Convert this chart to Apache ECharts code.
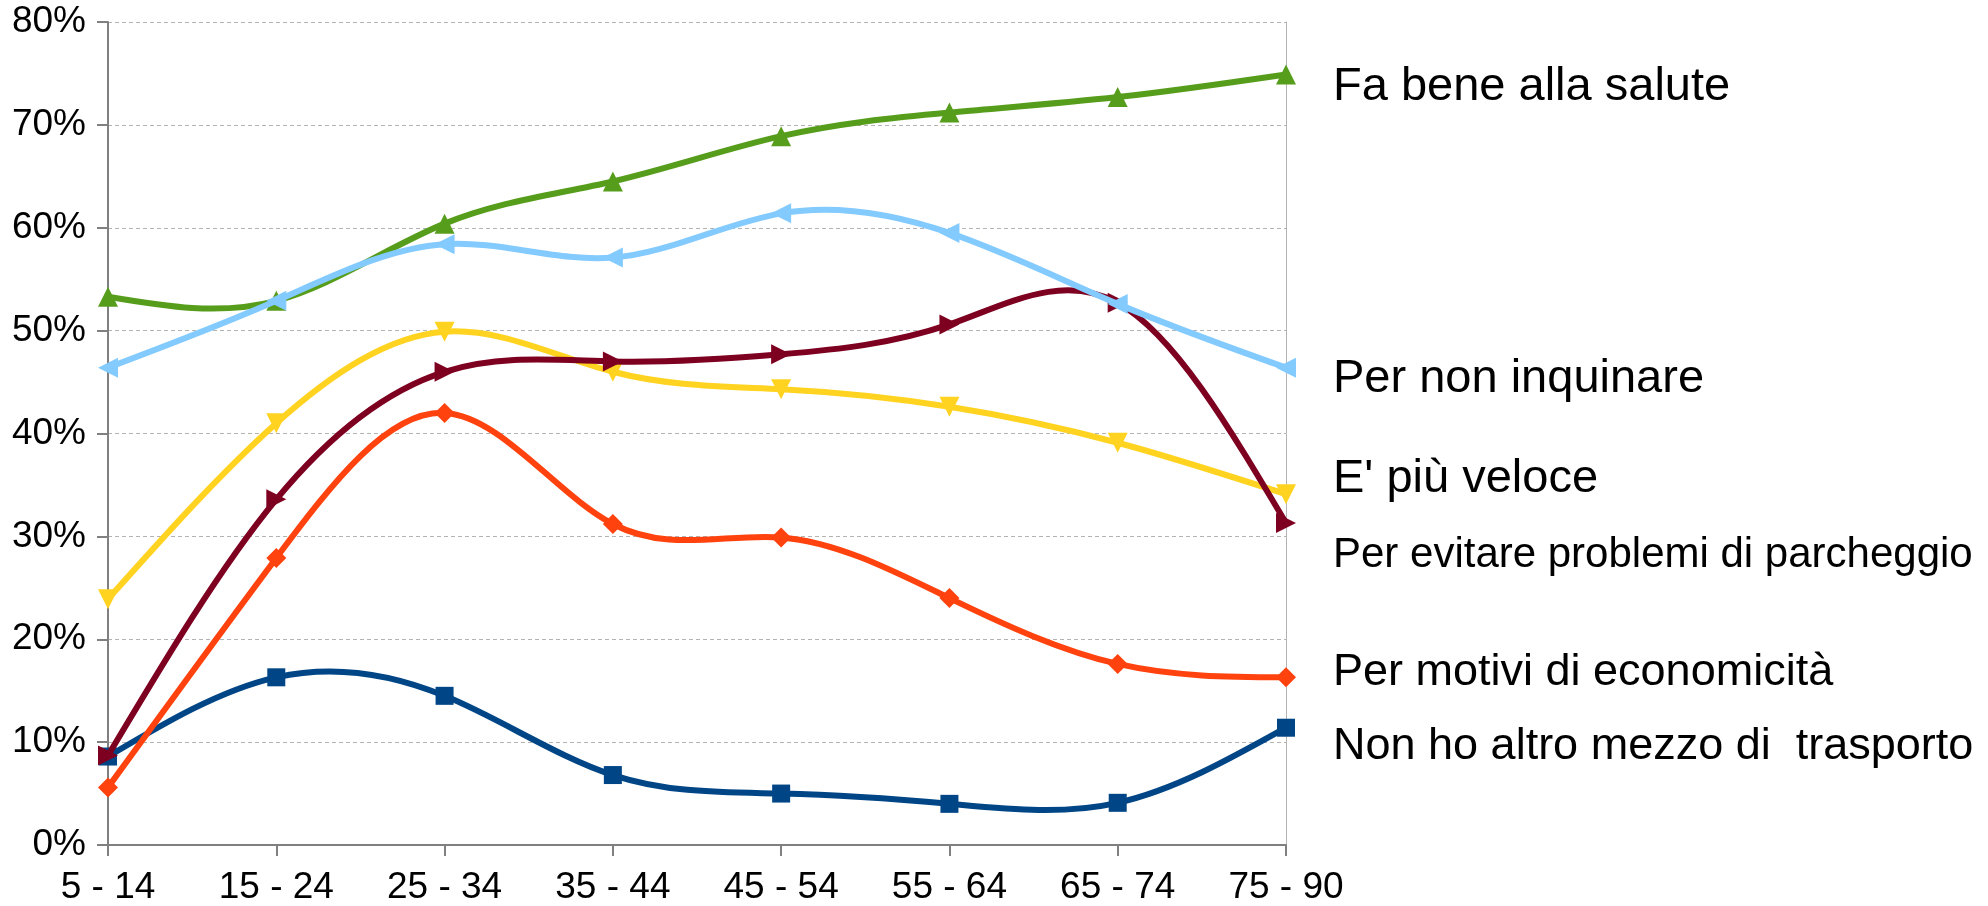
<!DOCTYPE html>
<html>
<head>
<meta charset="utf-8">
<title>Motivi</title>
<script src="https://cdn.jsdelivr.net/npm/echarts@6/dist/echarts.min.js"></script>
<style>
  html, body { margin: 0; padding: 0; background: #fff; }
  #chart { width: 1988px; height: 906px; }
</style>
</head>
<body>
<div id="chart"></div>
<script>
// fasce d'eta
const categories = ['5 - 14', '15 - 24', '25 - 34', '35 - 44', '45 - 54', '55 - 64', '65 - 74', '75 - 90']

// valori in %
const nonHoAltroMezzo = [8.6, 16.3, 14.5, 6.8, 5.0, 4.0, 4.1, 11.4]
const economicita = [5.6, 27.9, 42.0, 31.2, 29.9, 24.0, 17.6, 16.3]
const piuVeloce = [23.9, 41.0, 49.9, 46.0, 44.3, 42.6, 39.1, 34.1]
const faBene = [53.3, 52.9, 60.4, 64.5, 68.9, 71.2, 72.7, 74.9]
const parcheggio = [8.7, 33.6, 46.0, 47.0, 47.7, 50.6, 52.7, 31.3]
const inquinare = [46.4, 52.9, 58.4, 57.1, 61.4, 59.5, 52.6, 46.4]

const yTicks = [0, 10, 20, 30, 40, 50, 60, 70, 80]

const FONT = '"Liberation Sans", Arial, sans-serif'

// pendenze della spline cubica naturale (passo 1 tra le categorie)
function splineSlopes(ys) {
  const n = ys.length
  const M = new Array(n).fill(0)
  const cp = new Array(n).fill(0)
  const dp = new Array(n).fill(0)
  for (let i = 1; i < n - 1; i++) {
    const rhs = 6 * (ys[i + 1] - 2 * ys[i] + ys[i - 1])
    const m = 4 - (i > 1 ? cp[i - 1] : 0)
    cp[i] = 1 / m
    dp[i] = (rhs - (i > 1 ? dp[i - 1] : 0)) / m
  }
  for (let i = n - 2; i >= 1; i--) {
    M[i] = dp[i] - cp[i] * M[i + 1]
  }
  const s = []
  for (let i = 0; i < n - 1; i++) {
    s.push((ys[i + 1] - ys[i]) - (2 * M[i] + M[i + 1]) / 6)
  }
  s.push((ys[n - 1] - ys[n - 2]) + (M[n - 2] + 2 * M[n - 1]) / 6)
  return s
}

function splineSeries(values, color, width, z) {
  const slopes = splineSlopes(values)
  return {
    type: 'custom',
    silent: true,
    z: z,
    data: values.map(function (v, i) { return [i, v] }),
    encode: { x: 0, y: 1 },
    renderItem: function (params, api) {
      const i = params.dataIndex
      if (i >= values.length - 1) return
      const p0 = api.coord([i, values[i]])
      const p3 = api.coord([i + 1, values[i + 1]])
      const dx = p3[0] - p0[0]
      return {
        type: 'bezierCurve',
        shape: {
          x1: p0[0], y1: p0[1],
          x2: p3[0], y2: p3[1],
          cpx1: p0[0] + dx / 3,
          cpy1: api.coord([i, values[i] + slopes[i] / 3])[1],
          cpx2: p3[0] - dx / 3,
          cpy2: api.coord([i, values[i + 1] - slopes[i + 1] / 3])[1]
        },
        style: { stroke: color, lineWidth: width, fill: null, lineCap: 'round' }
      }
    }
  }
}

function markerSeries(name, values, color, symbol, rotate, size, labelSize, labelDy, z) {
  return {
    name: name,
    type: 'line',
    z: z,
    data: values,
    symbol: symbol,
    symbolSize: size,
    symbolRotate: rotate,
    showAllSymbol: true,
    lineStyle: { color: color, width: 0 },
    itemStyle: { color: color },
    emphasis: { disabled: true },
    endLabel: {
      show: true,
      formatter: name,
      color: '#000',
      fontFamily: FONT,
      fontSize: labelSize,
      distance: 0,
      offset: [47, labelDy],
      align: 'left',
      verticalAlign: 'middle'
    }
  }
}

const chart = echarts.init(document.getElementById('chart'))

const series = []
function addSerie(name, values, color, symbol, rotate, size, labelSize, labelDy) {
  const z = 2 + series.length
  series.push(splineSeries(values, color, 6, z))
  series.push(markerSeries(name, values, color, symbol, rotate, size, labelSize, labelDy, z + 1))
}

addSerie('Non ho altro mezzo di  trasporto', nonHoAltroMezzo, '#004586', 'rect', 0, 18, 45, 19)
addSerie('Per motivi di economicità', economicita, '#ff420e', 'diamond', 0, 20, 45, -5)
addSerie("E' più veloce", piuVeloce, '#ffd320', 'triangle', 180, 20, 47, -15)
addSerie('Fa bene alla salute', faBene, '#579d1c', 'triangle', 0, 20, 47, 13)
addSerie('Per evitare problemi di parcheggio', parcheggio, '#7e0021', 'triangle', -90, 20, 42, 32)
addSerie('Per non inquinare', inquinare, '#83caff', 'triangle', 90, 20, 47, 11)

chart.setOption({
  backgroundColor: '#fff',
  animation: false,
  grid: {
    left: 108,
    right: 702,
    top: 22,
    bottom: 60,
    containLabel: false
  },
  xAxis: {
    type: 'category',
    data: categories,
    boundaryGap: false,
    axisLine: { lineStyle: { color: '#808080', width: 2 } },
    axisTick: { show: true, length: 11, alignWithLabel: true, lineStyle: { color: '#808080', width: 2 } },
    axisLabel: { color: '#000', fontFamily: FONT, fontSize: 37, margin: 24 },
    splitLine: { show: false }
  },
  yAxis: [
    {
      type: 'value',
      min: yTicks[0],
      max: yTicks[yTicks.length - 1],
      interval: 10,
      axisLine: { show: true, lineStyle: { color: '#808080', width: 2 } },
      axisTick: { show: true, length: 11, lineStyle: { color: '#808080', width: 2 } },
      axisLabel: { color: '#000', fontFamily: FONT, fontSize: 37, margin: 22, formatter: '{value}%' },
      splitLine: { show: true, lineStyle: { color: '#b3b3b3', type: [4, 3], width: 1 } }
    },
    {
      type: 'value',
      position: 'right',
      min: yTicks[0],
      max: yTicks[yTicks.length - 1],
      interval: 10,
      axisLine: { show: true, lineStyle: { color: '#b3b3b3', width: 1 } },
      axisTick: { show: false },
      axisLabel: { show: false },
      splitLine: { show: false }
    }
  ],
  series: series
})
</script>
</body>
</html>
